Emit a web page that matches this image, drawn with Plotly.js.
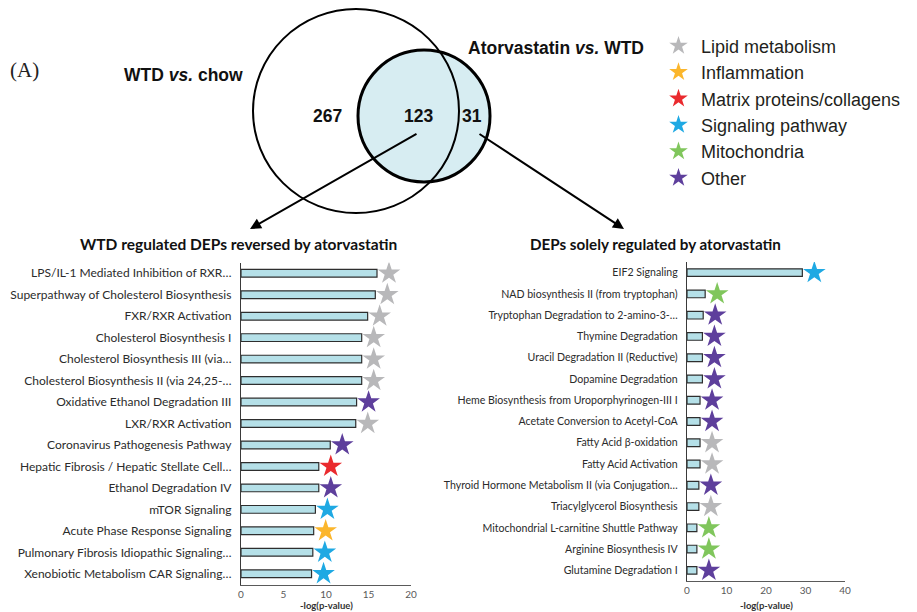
<!DOCTYPE html>
<html><head><meta charset="utf-8">
<script src="https://cdn.plot.ly/plotly-3.0.1.min.js"></script>
<style>html,body{margin:0;padding:0;background:#fff;}#chart{width:917px;height:612px;}</style>
</head><body><div id="chart"></div>
<script>
// ---------- DATA ----------
const leftLabels = [
  "LPS/IL-1 Mediated Inhibition of RXR\u2026",
  "Superpathway of Cholesterol Biosynthesis",
  "FXR/RXR Activation",
  "Cholesterol Biosynthesis I",
  "Cholesterol Biosynthesis III (via\u2026",
  "Cholesterol Biosynthesis II (via 24,25-\u2026",
  "Oxidative Ethanol Degradation III",
  "LXR/RXR Activation",
  "Coronavirus Pathogenesis Pathway",
  "Hepatic Fibrosis / Hepatic Stellate Cell\u2026",
  "Ethanol Degradation IV",
  "mTOR Signaling",
  "Acute Phase Response Signaling",
  "Pulmonary Fibrosis Idiopathic Signaling\u2026",
  "Xenobiotic Metabolism CAR Signaling\u2026"
];
const leftValues = [16.0, 15.8, 14.9, 14.2, 14.2, 14.2, 13.6, 13.5, 10.5, 9.15, 9.15, 8.75, 8.55, 8.45, 8.3];
const leftCats = ["Lipid metabolism","Lipid metabolism","Lipid metabolism","Lipid metabolism","Lipid metabolism","Lipid metabolism","Other","Lipid metabolism","Other","Matrix proteins/collagens","Other","Signaling pathway","Inflammation","Signaling pathway","Signaling pathway"];

const rightLabels = [
  "EIF2 Signaling",
  "NAD biosynthesis II (from tryptophan)",
  "Tryptophan Degradation to 2-amino-3-\u2026",
  "Thymine Degradation",
  "Uracil Degradation II (Reductive)",
  "Dopamine Degradation",
  "Heme Biosynthesis from Uroporphyrinogen-III I",
  "Acetate Conversion to Acetyl-CoA",
  "Fatty Acid \u03B2-oxidation",
  "Fatty Acid Activation",
  "Thyroid Hormone Metabolism II (via Conjugation\u2026",
  "Triacylglycerol Biosynthesis",
  "Mitochondrial L-carnitine Shuttle Pathway",
  "Arginine Biosynthesis IV",
  "Glutamine Degradation I"
];
const rightValues = [29.2, 4.6, 4.1, 3.9, 3.9, 3.9, 3.3, 3.3, 3.3, 3.3, 3.0, 3.0, 2.5, 2.5, 2.5];
const rightCats = ["Signaling pathway","Mitochondria","Other","Other","Other","Other","Other","Other","Lipid metabolism","Lipid metabolism","Other","Lipid metabolism","Mitochondria","Mitochondria","Other"];

const categories = ["Lipid metabolism","Inflammation","Matrix proteins/collagens","Signaling pathway","Mitochondria","Other"];
const catColors = ["#b8b8ba","#fbb62c","#ea2a2e","#1fa9e3","#80c65c","#5e3f9c"];

const vennSets = ["WTD <i>vs.</i> chow", "Atorvastatin <i>vs.</i> WTD"];
const vennCounts = [267, 123, 31];

// ---------- LAYOUT HELPERS ----------
const W = 917, H = 612;
const px = x => x / W;
const py = y => 1 - y / H;

const L = {x0: 241, x1: 411, y0: 262.5, y1: 584.5, range: [0, 20], dtick: 5};
const R = {x0: 687, x1: 845, y0: 262, y1: 581, range: [0, 40], dtick: 10};
const starGapPx = 12;

const traces = [];
function addPanel(labels, values, cats, P, xa, ya) {
  traces.push({
    type: "bar", orientation: "h", x: values, y: labels, xaxis: xa, yaxis: ya,
    width: 0.36, showlegend: false, hoverinfo: "x+y",
    marker: {color: "#b5e0e8", line: {color: "#2e2e2e", width: 1.2}}
  });
  const offs = starGapPx * (P.range[1] - P.range[0]) / (P.x1 - P.x0);
  categories.forEach((c, ci) => {
    const xs = [], ys = [];
    cats.forEach((k, i) => { if (k === c) { xs.push(values[i] + offs); ys.push(labels[i]); } });
    if (xs.length) traces.push({
      type: "scatter", mode: "markers", x: xs, y: ys, xaxis: xa, yaxis: ya,
      showlegend: false, hoverinfo: "skip",
      marker: {symbol: "star", size: 17, color: catColors[ci], line: {width: 0}}
    });
  });
}
addPanel(leftLabels, leftValues, leftCats, L, "x", "y");
addPanel(rightLabels, rightValues, rightCats, R, "x2", "y2");

// legend entries
categories.forEach((c, ci) => {
  traces.push({
    type: "scatter", mode: "markers", x: [null], y: [null], xaxis: "x3", yaxis: "y3",
    name: c, showlegend: true, hoverinfo: "skip",
    marker: {symbol: "star", size: 14, color: catColors[ci], line: {width: 0}}
  });
});

function xAxis(P, anchor) {
  return {
    domain: [px(P.x0), px(P.x1)], range: P.range, dtick: P.dtick, tick0: 0, anchor: anchor,
    showgrid: false, zeroline: false, showline: true, linecolor: "#5a5a5a", linewidth: 1.2,
    ticks: "", ticklabelstandoff: 0, tickfont: {family: "Lato, sans-serif", size: 10, color: "#595959"},
    fixedrange: true
  };
}
function yAxis(P, anchor, size, labels) {
  return {
    domain: [py(P.y1), py(P.y0)], type: "category", categoryorder: "array", categoryarray: labels,
    range: [labels.length - 0.5, -0.5], anchor: anchor,
    showgrid: false, zeroline: false, showline: true, linecolor: "#3a3a3a", linewidth: 1.2,
    ticks: "", ticklabelstandoff: 6, tickfont: {family: "Lato, sans-serif", size: size, color: "#2b2b2b"},
    fixedrange: true
  };
}

const vennFont = {family: "Liberation Sans, Arial, sans-serif", size: 17.5, color: "#111"};
const axTitleFont = {family: "Lato, sans-serif", size: 9.5, color: "#333"};
const annotations = [
  {text: "(A)", x: px(24), y: py(70), font: {family: "Liberation Serif, serif", size: 21, color: "#222"}},
  {text: "<b>" + vennSets[0] + "</b>", x: px(183), y: py(75), font: vennFont},
  {text: "<b>" + vennSets[1] + "</b>", x: px(556), y: py(48), font: vennFont},
  {text: "<b>" + vennCounts[0] + "</b>", x: px(327), y: py(116), font: vennFont},
  {text: "<b>" + vennCounts[1] + "</b>", x: px(418), y: py(116), font: vennFont},
  {text: "<b>" + vennCounts[2] + "</b>", x: px(472), y: py(116), font: vennFont},
  {text: "<b>WTD regulated DEPs reversed by atorvastatin</b>", x: px(238), y: py(244), font: {family: "Lato, sans-serif", size: 15.5, color: "#111"}},
  {text: "<b>DEPs solely regulated by atorvastatin</b>", x: px(655), y: py(244), font: {family: "Lato, sans-serif", size: 15.2, color: "#111"}},
  {text: "<b>-log(p-value)</b>", x: px((L.x0 + L.x1) / 2), y: py(612), yanchor: "bottom", borderpad: 0, font: axTitleFont},
  {text: "<b>-log(p-value)</b>", x: px((R.x0 + R.x1) / 2), y: py(612), yanchor: "bottom", borderpad: 0, font: axTitleFont},
  {text: "", x: px(250), y: py(229), ax: 418 - 250, ay: 133 - 229, showarrow: true, arrowhead: 2, arrowsize: 1.1, arrowwidth: 2, arrowcolor: "#000"},
  {text: "", x: px(624), y: py(229), ax: 478 - 624, ay: 133 - 229, showarrow: true, arrowhead: 2, arrowsize: 1.1, arrowwidth: 2, arrowcolor: "#000"}
].map(a => Object.assign({xref: "paper", yref: "paper", showarrow: false, xanchor: "center", yanchor: "middle"}, a));

const shapes = [
  {type: "circle", xref: "paper", yref: "paper", x0: px(358), x1: px(490), y0: py(182), y1: py(50), fillcolor: "#d7edf2", line: {width: 0}, layer: "below"},
  {type: "circle", xref: "paper", yref: "paper", x0: px(253), x1: px(459), y0: py(213), y1: py(9), line: {color: "#000", width: 2}},
  {type: "circle", xref: "paper", yref: "paper", x0: px(358), x1: px(490), y0: py(182), y1: py(50), line: {color: "#000", width: 3}}
];

const layout = {
  width: W, height: H, margin: {l: 0, r: 0, t: 0, b: 0},
  paper_bgcolor: "#fff", plot_bgcolor: "rgba(0,0,0,0)",
  xaxis: xAxis(L, "y"), yaxis: yAxis(L, "x", 12, leftLabels),
  xaxis2: xAxis(R, "y2"), yaxis2: yAxis(R, "x2", 10.6, rightLabels),
  xaxis3: {domain: [0.99, 1], visible: false, anchor: "y3"},
  yaxis3: {domain: [0.99, 1], visible: false, anchor: "x3"},
  showlegend: true,
  legend: {x: px(656), y: py(27.5), xanchor: "left", yanchor: "top", bgcolor: "rgba(0,0,0,0)",
           font: {family: "Liberation Sans, Arial, sans-serif", size: 18, color: "#231f20"}, itemwidth: 35, tracegroupgap: 0},
  annotations: annotations, shapes: shapes, bargap: 0.6
};

Plotly.newPlot("chart", traces, layout, {displayModeBar: false, staticPlot: true});
</script></body></html>
